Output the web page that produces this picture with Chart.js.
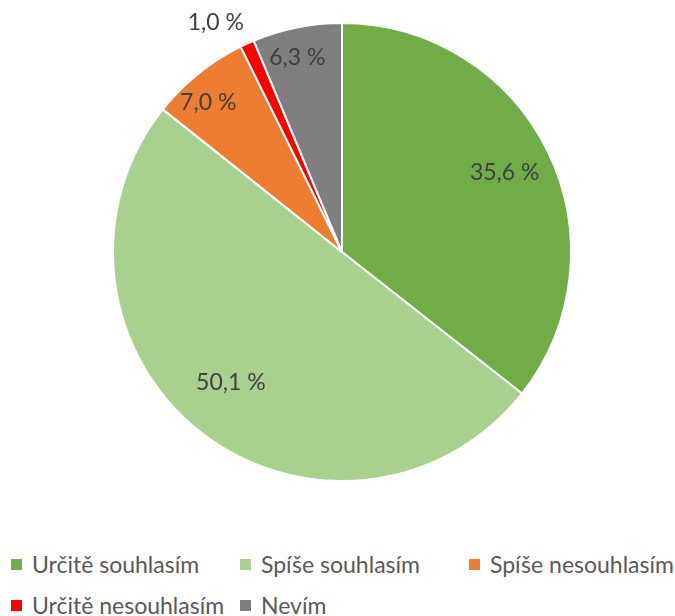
<!DOCTYPE html>
<html>
<head>
<meta charset="utf-8">
<script src="https://cdn.jsdelivr.net/npm/chart.js@4"></script>
<style>
  body { margin: 0; background: #fff; }
  #wrap { position: relative; width: 675px; height: 616px; overflow: hidden; }
  #plot { position: absolute; left: 0; top: 0; }
  #legend { position: absolute; left: 11px; top: 550px; width: 700px;
    display: grid; grid-template-columns: 229px 229px 229px; row-gap: 13px;
    font-family: Lato, sans-serif; font-size: 23px; color: #595959; }
  .item { display: flex; align-items: center; white-space: nowrap; height: 28px; }
  .box { width: 11px; height: 11px; margin-right: 10px; }
</style>
</head>
<body>
<div id="wrap">
  <canvas id="plot" width="675" height="504"></canvas>
  <div id="legend"></div>
</div>
<script>
const categories = ["Určitě souhlasím", "Spíše souhlasím", "Spíše nesouhlasím", "Určitě nesouhlasím", "Nevím"];
const values = [35.6, 50.1, 7.0, 1.0, 6.3];
const colors = ["#70AD47", "#A9D18E", "#ED7D31", "#FF0000", "#7F7F7F"];

// label placement (radius factor, angle shift in degrees), like excel best fit
const labelPos = [[0.79, 0], [0.75, 2], [0.875, -3], [1.145, -4.3], [0.87, -1.6]];

const labelPlugin = {
  id: "pieLabels",
  afterDatasetsDraw(chart) {
    const ctx = chart.ctx;
    const arcs = chart.getDatasetMeta(0).data;
    ctx.save();
    ctx.font = "23px Lato, sans-serif";
    ctx.fillStyle = "#404040";
    ctx.textAlign = "center";
    ctx.textBaseline = "middle";
    arcs.forEach((arc, i) => {
      const mid = (arc.startAngle + arc.endAngle) / 2 + labelPos[i][1] * Math.PI / 180;
      const r = arc.outerRadius * labelPos[i][0];
      const x = arc.x + Math.cos(mid) * r;
      const y = arc.y + Math.sin(mid) * r;
      ctx.fillText(values[i].toFixed(1).replace(".", ",") + " %", x, y);
    });
    ctx.restore();
  }
};

let ctx = document.getElementById("plot").getContext("2d");
let chart = new Chart(ctx, {
  type: "pie",
  data: {
    labels: categories,
    datasets: [{
      data: values,
      backgroundColor: colors,
      borderColor: "#ffffff",
      borderWidth: 2
    }]
  },
  options: {
    responsive: false,
    animation: false,
    layout: { padding: { left: 112, right: 103, top: 22, bottom: 22 } },
    plugins: { legend: { display: false }, tooltip: { enabled: false } }
  },
  plugins: [labelPlugin]
});

let legend = document.getElementById("legend");
categories.forEach((c, i) => {
  let item = document.createElement("div");
  item.className = "item";
  item.innerHTML = '<span class="box" style="background:' + colors[i] + '"></span>' + c;
  legend.appendChild(item);
});
</script>
</body>
</html>
